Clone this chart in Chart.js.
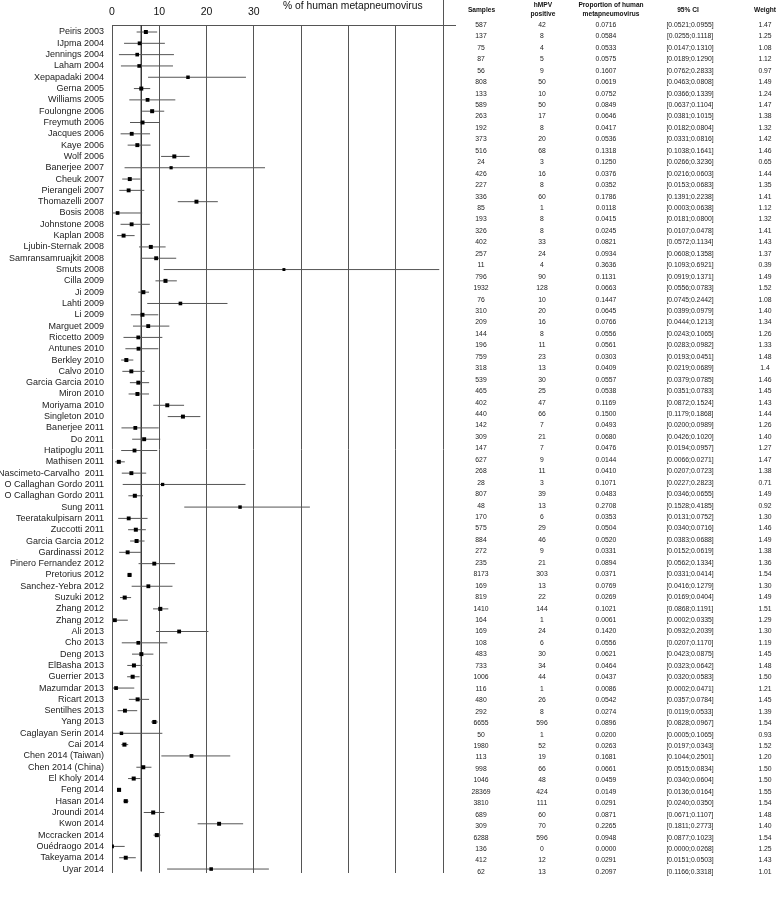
<!DOCTYPE html>
<html><head><meta charset="utf-8">
<script src="https://cdn.jsdelivr.net/npm/chart.js@4.4.1/dist/chart.umd.min.js"></script>
<style>
html,body{margin:0;padding:0;background:#fff;overflow:hidden}
#wrap{position:absolute;left:0;top:0;width:777px;height:906px}
</style>
</head><body><div id="wrap"><canvas id="c" width="777" height="906"></canvas></div>
<script>
const studies = ["Peiris 2003","IJpma 2004","Jennings 2004","Laham 2004","Xepapadaki 2004","Gerna 2005","Williams 2005","Foulongne 2006","Freymuth 2006","Jacques 2006","Kaye 2006","Wolf 2006","Banerjee 2007","Cheuk 2007","Pierangeli 2007","Thomazelli 2007","Bosis 2008","Johnstone 2008","Kaplan 2008","Ljubin-Sternak 2008","Samransamruajkit 2008","Smuts 2008","Cilla 2009","Ji 2009","Lahti 2009","Li 2009","Marguet 2009","Riccetto 2009","Antunes 2010","Berkley 2010","Calvo 2010","Garcia Garcia 2010","Miron 2010","Moriyama 2010","Singleton 2010","Banerjee 2011","Do 2011","Hatipoglu 2011","Mathisen 2011","Nascimeto-Carvalho  2011","O Callaghan Gordo 2011","O Callaghan Gordo 2011","Sung 2011","Teeratakulpisarn 2011","Zuccotti 2011","Garcia Garcia 2012","Gardinassi 2012","Pinero Fernandez 2012","Pretorius 2012","Sanchez-Yebra 2012","Suzuki 2012","Zhang 2012","Zhang 2012","Ali 2013","Cho 2013","Deng 2013","ElBasha 2013","Guerrier 2013","Mazumdar 2013","Ricart 2013","Sentilhes 2013","Yang 2013","Caglayan Serin 2014","Cai 2014","Chen 2014 (Taiwan)","Chen 2014 (China)","El Kholy 2014","Feng 2014","Hasan 2014","Jroundi 2014","Kwon 2014","Mccracken 2014","Ouédraogo 2014","Takeyama 2014","Uyar 2014"];
const samples = [587,137,75,87,56,808,133,589,263,192,373,516,24,426,227,336,85,193,326,402,257,11,796,1932,76,310,209,144,196,759,318,539,465,402,440,142,309,147,627,268,28,807,48,170,575,884,272,235,8173,169,819,1410,164,169,108,483,733,1006,116,480,292,6655,50,1980,113,998,1046,28369,3810,689,309,6288,136,412,62];
const positives = [42,8,4,5,9,50,10,50,17,8,20,68,3,16,8,60,1,8,8,33,24,4,90,128,10,20,16,8,11,23,13,30,25,47,66,7,21,7,9,11,3,39,13,6,29,46,9,21,303,13,22,144,1,24,6,30,34,44,1,26,8,596,1,52,19,66,48,424,111,60,70,596,0,12,13];
const proportions = [0.0716,0.0584,0.0533,0.0575,0.1607,0.0619,0.0752,0.0849,0.0646,0.0417,0.0536,0.1318,0.1250,0.0376,0.0352,0.1786,0.0118,0.0415,0.0245,0.0821,0.0934,0.3636,0.1131,0.0663,0.1447,0.0645,0.0766,0.0556,0.0561,0.0303,0.0409,0.0557,0.0538,0.1169,0.1500,0.0493,0.0680,0.0476,0.0144,0.0410,0.1071,0.0483,0.2708,0.0353,0.0504,0.0520,0.0331,0.0894,0.0371,0.0769,0.0269,0.1021,0.0061,0.1420,0.0556,0.0621,0.0464,0.0437,0.0086,0.0542,0.0274,0.0896,0.0200,0.0263,0.1681,0.0661,0.0459,0.0149,0.0291,0.0871,0.2265,0.0948,0.0000,0.0291,0.2097];
const ciLow = [0.0521,0.0255,0.0147,0.0189,0.0762,0.0463,0.0366,0.0637,0.0381,0.0182,0.0331,0.1038,0.0266,0.0216,0.0153,0.1391,0.0003,0.0181,0.0107,0.0572,0.0608,0.1093,0.0919,0.0556,0.0745,0.0399,0.0444,0.0243,0.0283,0.0193,0.0219,0.0379,0.0351,0.0872,0.1179,0.0200,0.0426,0.0194,0.0066,0.0207,0.0227,0.0346,0.1528,0.0131,0.0340,0.0383,0.0152,0.0562,0.0331,0.0416,0.0169,0.0868,0.0002,0.0932,0.0207,0.0423,0.0323,0.0320,0.0002,0.0357,0.0119,0.0828,0.0005,0.0197,0.1044,0.0515,0.0340,0.0136,0.0240,0.0671,0.1811,0.0877,0.0000,0.0151,0.1166];
const ciHigh = [0.0955,0.1118,0.1310,0.1290,0.2833,0.0808,0.1339,0.1104,0.1015,0.0804,0.0816,0.1641,0.3236,0.0603,0.0683,0.2238,0.0638,0.0800,0.0478,0.1134,0.1358,0.6921,0.1371,0.0783,0.2442,0.0979,0.1213,0.1065,0.0982,0.0451,0.0689,0.0785,0.0783,0.1524,0.1868,0.0989,0.1020,0.0957,0.0271,0.0723,0.2823,0.0655,0.4185,0.0752,0.0716,0.0688,0.0619,0.1334,0.0414,0.1279,0.0404,0.1191,0.0335,0.2039,0.1170,0.0875,0.0642,0.0583,0.0471,0.0784,0.0533,0.0967,0.1065,0.0343,0.2501,0.0834,0.0604,0.0164,0.0350,0.1107,0.2773,0.1023,0.0268,0.0503,0.3318];
const weights = ["1.47","1.25","1.08","1.12","0.97","1.49","1.24","1.47","1.38","1.32","1.42","1.46","0.65","1.44","1.35","1.41","1.12","1.32","1.41","1.43","1.37","0.39","1.49","1.52","1.08","1.40","1.34","1.26","1.33","1.48","1.4","1.46","1.45","1.43","1.44","1.26","1.40","1.27","1.47","1.38","0.71","1.49","0.92","1.30","1.46","1.49","1.38","1.36","1.54","1.30","1.49","1.51","1.29","1.30","1.19","1.45","1.48","1.50","1.21","1.45","1.39","1.54","0.93","1.52","1.20","1.50","1.50","1.55","1.54","1.48","1.40","1.54","1.25","1.43","1.01"];
const xTickLabels = ["0","10","20","30"];
const pooledEstimate = 0.062;
const axisTitle = "% of human metapneumovirus";
const tableHeaders = [["Samples"],["hMPV","positive"],["Proportion of human","metapneumovirus"],["95% CI"],["Weight"]];

const FONT = "'Liberation Sans', Arial, sans-serif";
const n = studies.length;
const rows = studies.map((_, i) => i + 1);

const datasets = [];
datasets.push({
  type: 'scatter', label: 'estimate', order: 0,
  data: proportions.map((p, i) => ({x: p * 100, y: rows[i]})),
  pointStyle: 'rect', backgroundColor: '#000', borderWidth: 0,
  pointRadius: weights.map(w => 1.8 + parseFloat(w) * 0.7), pointHoverRadius: 3
});
datasets.push({
  type: 'line', label: 'pooled', order: 2,
  data: [{x: pooledEstimate * 100, y: 0.4}, {x: pooledEstimate * 100, y: n + 0.2}],
  borderColor: '#3a3a3a', borderWidth: 1, pointRadius: 0, fill: false
});
for (let i = 0; i < n; i++) {
  datasets.push({
    type: 'line', label: 'ci' + i, order: 1,
    data: [{x: ciLow[i] * 100, y: rows[i]}, {x: ciHigh[i] * 100, y: rows[i]}],
    borderColor: '#555', borderWidth: 1, pointRadius: 0, fill: false
  });
}

const colX = [481, 542, 606, 690, 765];
const headX = [481.5, 543, 611, 688, 765];

const extras = {
  id: 'extras',
  afterDraw(chart) {
    const ctx = chart.ctx, xs = chart.scales.x, ys2 = chart.scales.y2, ca = chart.chartArea;
    ctx.save();
    ctx.strokeStyle = '#555'; ctx.lineWidth = 1;
    const xr = Math.round(xs.getPixelForValue(70)) + 0.5;
    ctx.beginPath(); ctx.moveTo(xr, 0); ctx.lineTo(xr, ca.top); ctx.stroke();
    ctx.beginPath(); ctx.moveTo(ca.right, Math.round(ca.top) + 0.5); ctx.lineTo(ca.right + 13, Math.round(ca.top) + 0.5); ctx.stroke();
    ctx.fillStyle = '#111';
    ctx.font = '10.3px ' + FONT;
    ctx.textAlign = 'left'; ctx.textBaseline = 'middle';
    ctx.fillText(axisTitle, 283, 6);
    // table headers
    ctx.font = 'bold 6.6px ' + FONT;
    ctx.textAlign = 'center';
    tableHeaders.forEach((lines, k) => {
      if (lines.length === 1) ctx.fillText(lines[0], headX[k], 10.5);
      else { ctx.fillText(lines[0], headX[k], 5); ctx.fillText(lines[1], headX[k], 14.5); }
    });
    ctx.font = '6.8px ' + FONT;
    ctx.fillStyle = '#222';
    for (let i = 0; i < n; i++) {
      const y = ys2.getPixelForValue(rows[i]);
      const vals = [String(samples[i]), String(positives[i]), proportions[i].toFixed(4),
        '[' + ciLow[i].toFixed(4) + ';' + ciHigh[i].toFixed(4) + ']', weights[i]];
      vals.forEach((v, k) => ctx.fillText(v, colX[k], y));
    }
    ctx.restore();
  }
};

new Chart(document.getElementById('c'), {
  type: 'scatter',
  data: {datasets},
  options: {
    responsive: false, animation: false,
    layout: {padding: {left: 0, top: 0, right: 334, bottom: 33}},
    plugins: {legend: {display: false}, tooltip: {enabled: false}, title: {display: false}},
    elements: {line: {tension: 0}},
    scales: {
      x: {
        type: 'linear', position: 'top', min: 0, max: 70,
        afterFit(s) { s.height = 25; },
        ticks: {stepSize: 10, padding: 7, color: '#111', font: {family: FONT, size: 10.5},
          callback: (v) => { const idx = v / 10; return (Number.isInteger(idx) && idx < xTickLabels.length) ? xTickLabels[idx] : ''; }},
        grid: {color: '#555', lineWidth: 1, drawTicks: false},
        border: {display: true, color: '#555'}
      },
      y: {
        type: 'linear', position: 'left', reverse: true, min: 0.38, max: n + 0.35,
        afterFit(s) { s.width = 112; },
        afterBuildTicks(s) { s.ticks = rows.map(v => ({value: v})); },
        ticks: {autoSkip: false, padding: 8, color: '#222', font: {family: FONT, size: 9},
          callback: (v) => studies[Math.round(v) - 1] || ''},
        grid: {display: false, drawTicks: false},
        border: {display: false}
      },
      y2: {
        type: 'linear', position: 'right', display: false, reverse: true, min: 1, max: n + 0.09
      }
    }
  },
  plugins: [extras]
});
</script>
</body></html>
